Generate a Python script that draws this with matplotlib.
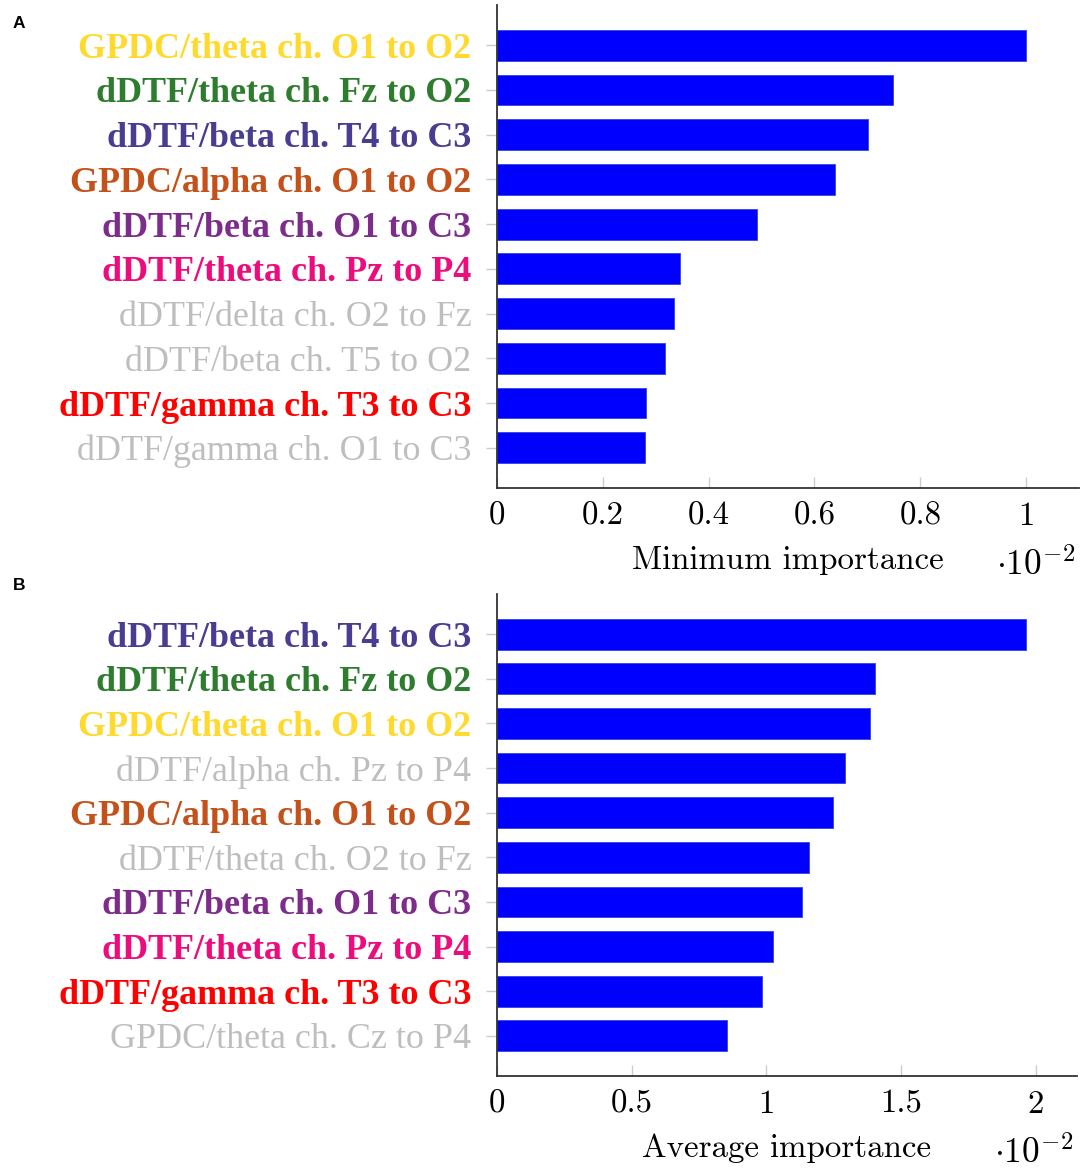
import matplotlib
matplotlib.use("Agg")
import matplotlib.pyplot as plt
import matplotlib.transforms as mtransforms

plt.rcParams['mathtext.fontset'] = 'cm'
plt.rcParams['axes.formatter.use_mathtext'] = True

# ---------------- data ----------------
labels_a = [
    "GPDC/theta ch. O1 to O2",
    "dDTF/theta ch. Fz to O2",
    "dDTF/beta ch. T4 to C3",
    "GPDC/alpha ch. O1 to O2",
    "dDTF/beta ch. O1 to C3",
    "dDTF/theta ch. Pz to P4",
    "dDTF/delta ch. O2 to Fz",
    "dDTF/beta ch. T5 to O2",
    "dDTF/gamma ch. T3 to C3",
    "dDTF/gamma ch. O1 to C3",
]
values_a = [1.0, 0.748, 0.701, 0.638, 0.491, 0.345, 0.335, 0.317, 0.281, 0.279]
ticks_a = [0, 0.2, 0.4, 0.6, 0.8, 1.0]
ticklabels_a = ["0", "0.2", "0.4", "0.6", "0.8", "1"]
xlabel_a = "Minimum importance"

labels_b = [
    "dDTF/beta ch. T4 to C3",
    "dDTF/theta ch. Fz to O2",
    "GPDC/theta ch. O1 to O2",
    "dDTF/alpha ch. Pz to P4",
    "GPDC/alpha ch. O1 to O2",
    "dDTF/theta ch. O2 to Fz",
    "dDTF/beta ch. O1 to C3",
    "dDTF/theta ch. Pz to P4",
    "dDTF/gamma ch. T3 to C3",
    "GPDC/theta ch. Cz to P4",
]
values_b = [1.963, 1.405, 1.385, 1.291, 1.247, 1.160, 1.131, 1.025, 0.984, 0.855]
ticks_b = [0, 0.5, 1.0, 1.5, 2.0]
ticklabels_b = ["0", "0.5", "1", "1.5", "2"]
xlabel_b = "Average importance"

scale_text = r"$\cdot10^{-2}$"

# label highlight colours (others -> plain gray)
label_colors = {
    "GPDC/theta ch. O1 to O2": "#FFD92E",
    "dDTF/theta ch. Fz to O2": "#2E7D2E",
    "dDTF/beta ch. T4 to C3": "#483D91",
    "GPDC/alpha ch. O1 to O2": "#C4501A",
    "dDTF/beta ch. O1 to C3": "#7D2C8B",
    "dDTF/theta ch. Pz to P4": "#EC0C7C",
    "dDTF/gamma ch. T3 to C3": "#FF0000",
}
gray_label = "#BEBEBE"
bar_color = "#0000FF"

# ---------------- figure ----------------
W, H = 1084, 1170
fig = plt.figure(figsize=(W / 100, H / 100), dpi=100)


def px_axes(left, top, right, bottom):
    return fig.add_axes([left / W, 1 - bottom / H, (right - left) / W, (bottom - top) / H])


def draw(ax, labels, values, ticks, ticklabels, xmax, xlabel):
    ypos = list(range(len(labels)))
    ax.barh(ypos, values, height=0.69, color=bar_color, edgecolor="#3344dd", linewidth=0.6)
    ax.set_ylim(len(labels) - 1 + 0.9, -0.9)
    ax.set_xlim(0, xmax)
    ax.set_yticks(ypos)
    ax.set_yticklabels(labels)
    for t, lab in zip(ax.get_yticklabels(), labels):
        c = label_colors.get(lab)
        t.set_fontfamily("Liberation Serif")
        t.set_fontsize(25.9)
        if c is None:
            t.set_color(gray_label)
            t.set_fontweight("normal")
        else:
            t.set_color(c)
            t.set_fontweight("bold")
    ax.set_xticks(ticks)
    ax.set_xticklabels(ticklabels, fontfamily="cmr10", fontsize=23.7)
    ax.tick_params(axis="y", direction="out", length=8, width=1.0, color="#cccccc", pad=10.5)
    ax.tick_params(axis="x", direction="in", length=8, width=1.0, color="#cccccc", pad=10)
    for s in ("top", "right"):
        ax.spines[s].set_visible(False)
    for s in ("left", "bottom"):
        ax.spines[s].set_color("#333333")
        ax.spines[s].set_linewidth(1.3)
    trans = mtransforms.blended_transform_factory(ax.transAxes, ax.transAxes)
    offset = mtransforms.ScaledTranslation(0, -81 / 100, fig.dpi_scale_trans)
    offset2 = mtransforms.ScaledTranslation(-4 / 100, -87 / 100, fig.dpi_scale_trans)
    ax.text(0.5, 0, xlabel, transform=trans + offset, ha="center", va="baseline",
            fontfamily="cmr10", fontsize=23.7)
    ax.text(1.0, 0, scale_text, transform=trans + offset2, ha="right", va="baseline",
            fontsize=25.5)


axA = px_axes(497, 5, 1079, 488)
draw(axA, labels_a, values_a, ticks_a, ticklabels_a, 1.1, xlabel_a)

axB = px_axes(497, 594, 1077, 1076)
draw(axB, labels_b, values_b, ticks_b, ticklabels_b, 2.154, xlabel_b)

fig.text(13 / W, 1 - 16 / H, "A", fontfamily="Liberation Sans", fontweight="bold",
         fontsize=12.5, ha="left", va="top")
fig.text(13 / W, 1 - 578 / H, "B", fontfamily="Liberation Sans", fontweight="bold",
         fontsize=12.5, ha="left", va="top")

fig.savefig("out.png", dpi=100)
